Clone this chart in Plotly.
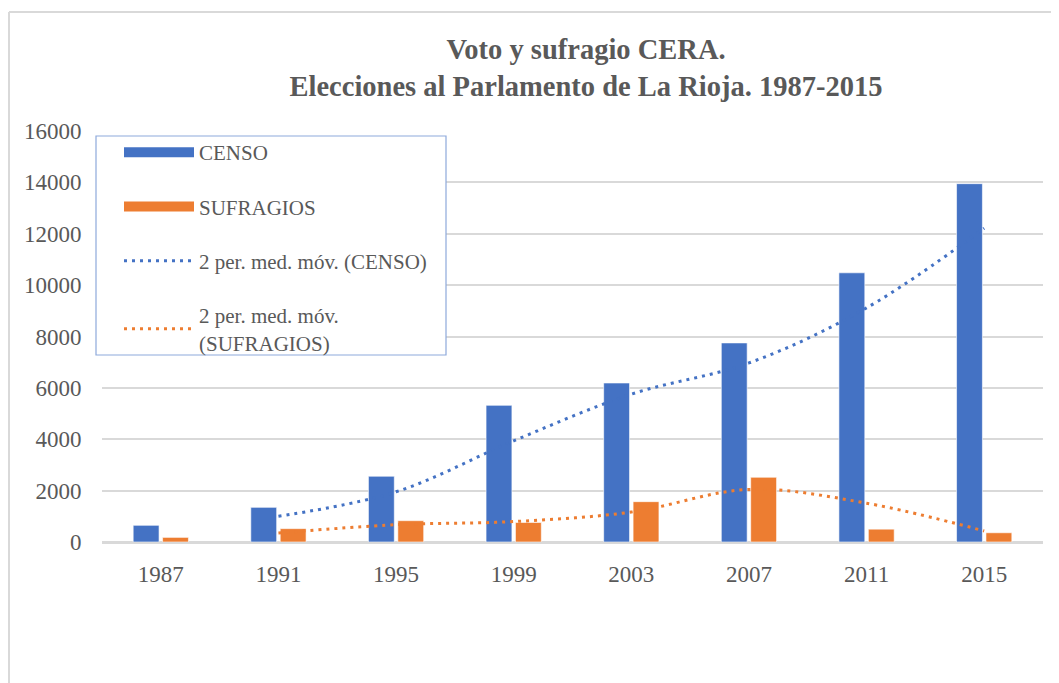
import pandas as pd
import plotly.graph_objects as go

years = ["1987", "1991", "1995", "1999", "2003", "2007", "2011", "2015"]
censo = [650, 1350, 2560, 5320, 6190, 7750, 10480, 13950]
sufragios = [180, 520, 830, 760, 1570, 2520, 500, 360]

BLUE = "#4472C4"
ORANGE = "#ED7D31"
GREY = "#595959"
GRID = "#D9D9D9"
FONT = "Garamond, 'Liberation Serif', 'DejaVu Serif', serif"

df = pd.DataFrame({"year": years, "censo": censo, "sufragios": sufragios})
# media movil de 2 periodos, como la linea de tendencia de Excel
df["censo_mm"] = df["censo"].rolling(2).mean()
df["sufragios_mm"] = df["sufragios"].rolling(2).mean()

# la pagina deja 8px de margen en el body
OFF = 8
W, H = 1059 - OFF, 683 - OFF
L, R, T, B = 102 - OFF, 16, 131 - OFF, 141
pw, ph = W - L - R, H - T - B


def px_x(x):
    # x en pixeles de pantalla -> coordenada paper
    return (x - OFF - L) / pw


def px_y(y):
    return 1 - (y - OFF - T) / ph


fig = go.Figure()
fig.add_trace(go.Bar(
    x=df["year"], y=df["censo"], name="CENSO", legendgroup="a", showlegend=False,
    marker=dict(color=BLUE, line=dict(color="rgba(255,255,255,0.6)", width=1)),
))
fig.add_trace(go.Bar(
    x=df["year"], y=df["sufragios"], name="SUFRAGIOS", legendgroup="b", showlegend=False,
    marker=dict(color=ORANGE, line=dict(color="rgba(255,255,255,0.6)", width=1)),
))
# entradas de leyenda con barra ancha, estilo Excel
fig.add_trace(go.Scatter(
    x=[None], y=[None], mode="lines", name="CENSO", legendgroup="a",
    line=dict(color=BLUE, width=10), hoverinfo="skip",
))
fig.add_trace(go.Scatter(
    x=[None], y=[None], mode="lines", name="SUFRAGIOS", legendgroup="b",
    line=dict(color=ORANGE, width=10), hoverinfo="skip",
))
fig.add_trace(go.Scatter(
    x=df["year"], y=df["censo_mm"], mode="lines", name="2 per. med. móv. (CENSO)",
    legendgroup="c", line=dict(color=BLUE, width=3, dash="3px,5px", shape="spline"),
))
fig.add_trace(go.Scatter(
    x=df["year"], y=df["sufragios_mm"], mode="lines",
    name="2 per. med. móv.<br>(SUFRAGIOS)", legendgroup="d",
    line=dict(color=ORANGE, width=3, dash="3px,5px", shape="spline"),
))

fig.update_layout(
    width=W, height=H,
    margin=dict(l=L, r=R, t=T, b=B),
    paper_bgcolor="white", plot_bgcolor="white",
    font=dict(family=FONT, size=23, color=GREY),
    title=dict(
        text="<b>Voto y sufragio CERA.<br>Elecciones al Parlamento de La Rioja. 1987-2015</b>",
        x=px_x(586), xref="paper", xanchor="center",
        y=1 - (59 - OFF) / H, yanchor="top",
        font=dict(family=FONT, size=28.5, color=GREY),
    ),
    barmode="group", bargap=0.5, bargroupgap=0.12,
    showlegend=True,
    legend=dict(
        x=px_x(119), y=px_y(132), xanchor="left", yanchor="top",
        bgcolor="rgba(0,0,0,0)", borderwidth=0,
        font=dict(family=FONT, size=21, color=GREY),
        itemwidth=70, tracegroupgap=24, traceorder="grouped",
    ),
    xaxis=dict(
        type="category", showgrid=False, showline=False,
        ticks="outside", ticklen=11, tickcolor="rgba(0,0,0,0)",
    ),
    yaxis=dict(
        range=[0, 16000], dtick=2000, tickformat="d",
        showgrid=True, gridcolor=GRID, gridwidth=1.5,
        zeroline=True, zerolinecolor=GRID, zerolinewidth=3,
        ticks="outside", ticklen=15, tickcolor="rgba(0,0,0,0)",
    ),
    shapes=[
        # caja de la leyenda
        dict(type="rect", xref="paper", yref="paper", layer="above",
             x0=px_x(96), x1=px_x(446), y0=px_y(355), y1=px_y(136),
             fillcolor="white", line=dict(color="#8EA9DB", width=1.2)),
        # borde del area del grafico
        dict(type="line", xref="paper", yref="paper",
             x0=px_x(9), x1=px_x(1059), y0=px_y(12), y1=px_y(12),
             line=dict(color=GRID, width=2)),
        dict(type="line", xref="paper", yref="paper",
             x0=px_x(9), x1=px_x(9), y0=px_y(12), y1=px_y(683),
             line=dict(color=GRID, width=2)),
    ],
)

fig.write_html("out.html")
